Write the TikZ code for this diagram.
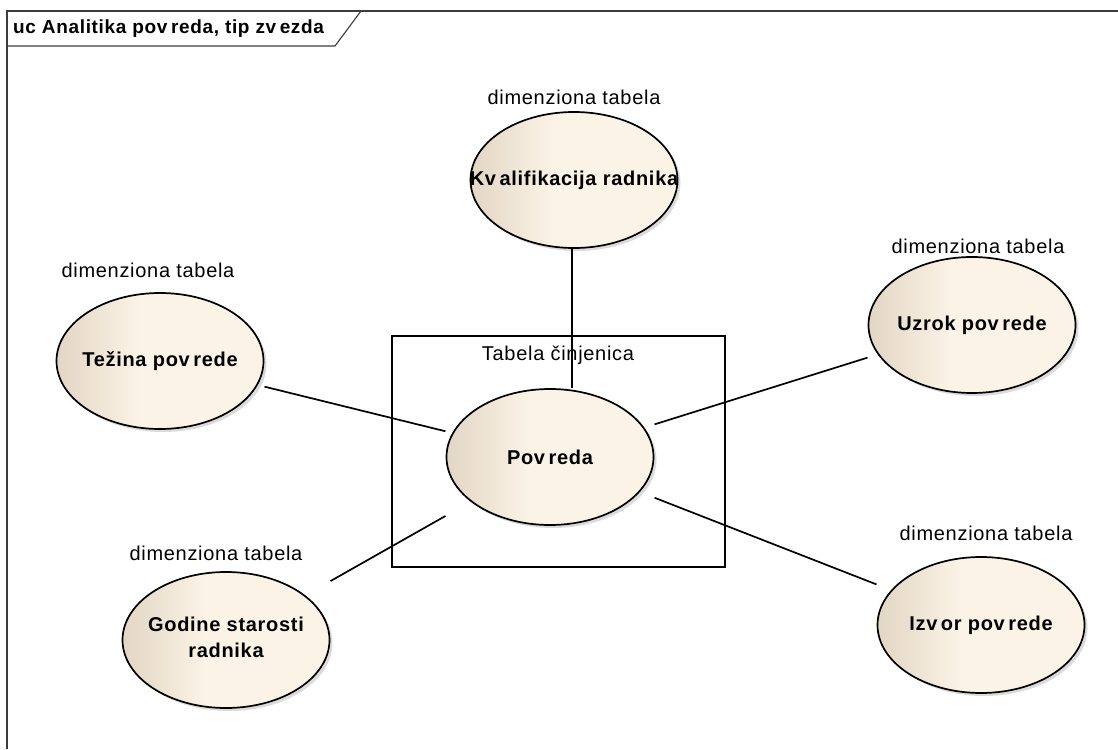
\documentclass[tikz,border=0pt]{standalone}
\usepackage{fontspec}
\setmainfont{Liberation Sans}[LetterSpace=3.5]
\usetikzlibrary{shapes.geometric,shadows,fit,calc}
\definecolor{ucdark}{RGB}{226,214,196}
\definecolor{uclight}{RGB}{251,243,230}
\definecolor{framegray}{RGB}{60,60,60}
\pgfdeclarehorizontalshading{ucshade}{100bp}{color(0bp)=(ucdark); color(25bp)=(ucdark); color(45bp)=(uclight); color(100bp)=(uclight)}
\newcommand\vk{v\kern3.5pt}
\tikzset{
  uc/.style={ellipse, draw=black, line width=1.7pt, minimum width=207pt, minimum height=136pt,
    inner sep=0pt, shade, shading=ucshade,
    drop shadow={shadow xshift=3pt, shadow yshift=-3pt, fill=black!28},
    font=\bfseries\fontsize{20}{24}\selectfont},
  bb/.style={rectangle, inner sep=0pt, draw=none},
  conn/.style={draw=black, line width=1.7pt},
  stereo/.style={font=\fontsize{20}{24}\selectfont, inner sep=0pt},
  frameline/.style={draw=framegray, line width=1.1pt},
  factbox/.style={draw=black, line width=1.7pt}
}
\begin{document}
\begin{tikzpicture}[x=1pt,y=-1pt]
% frame and title tab
\draw[frameline] (1118,11) -- (7,11) -- (7,749);
\draw[frameline] (7,46) -- (335,46) -- (361,11);
\node[anchor=west, inner sep=0pt, font=\bfseries\fontsize{19}{22}\selectfont] (title) at (13,29) {uc Analitika po\vk reda, tip z\vk ezda};
% fact table box
\draw[factbox] (392,336) rectangle (725,567);
\node[stereo] (facttitle) at (558,355) {Tabela činjenica};
% ellipses
\node[uc] (pov) at (550,457) {\makebox[0pt]{Po\vk reda}};
\node[uc] (kva) at (574,180) {\makebox[0pt]{K\vk alifikacija radnika}};
\node[uc] (tez) at (160,361) {\makebox[0pt]{Težina po\vk rede}};
\node[uc] (uzr) at (972,325) {\makebox[0pt]{Uzrok po\vk rede}};
\node[uc] (god) at (226,640) {\makebox[0pt]{\begin{tabular}{@{}c@{}}Godine starosti\\[2pt]radnika\end{tabular}}};
\node[uc] (izv) at (981,625) {\makebox[0pt]{Iz\vk or po\vk rede}};
% stereotype labels
\node[stereo] (kvalbl) at (574,97) {dimenziona tabela};
\node[stereo] (tezlbl) at (148,270) {dimenziona tabela};
\node[stereo] (uzrlbl) at (978,246) {dimenziona tabela};
\node[stereo] (godlbl) at (216,553) {dimenziona tabela};
\node[stereo] (izvlbl) at (986,533) {dimenziona tabela};
% bounding boxes for connector clipping
\node[bb, fit=(pov)] (povb) {};
\node[bb, fit=(kva)] (kvab) {};
\node[bb, fit=(tez)] (tezb) {};
\node[bb, fit=(uzr)] (uzrb) {};
\node[bb, fit=(god)] (godb) {};
\node[bb, fit=(izv)] (izvb) {};
% connectors
\coordinate (kvx) at ($(kvab.south)+(-2,0)$);
\draw[conn] (kvx) -- (kvx |- povb.north);
\draw[conn] (tezb) -- (povb);
\draw[conn] (uzrb) -- (povb);
\draw[conn] (godb) -- (povb);
\draw[conn] (izvb) -- (povb);
\pgfresetboundingbox
\useasboundingbox (0,0) rectangle (1118,749);
\end{tikzpicture}
\end{document}
